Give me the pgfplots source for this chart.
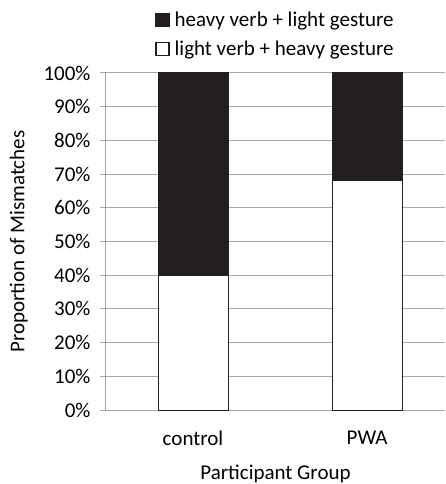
\documentclass[border=0pt]{standalone}
\usepackage{pgfplots}
\pgfplotsset{compat=1.18}
\usepackage{fontspec}
\setmainfont{Carlito}
\definecolor{barblack}{HTML}{231F20}
\definecolor{gridgray}{HTML}{A6A6A6}
\begin{document}
\begin{tikzpicture}
\begin{axis}[
  scale only axis,
  width=339pt, height=337pt,
  font=\fontsize{21}{25}\selectfont,
  /pgf/number format/assume math mode=true,
  ybar stacked,
  bar width=70pt,
  xmin=-0.5, xmax=1.448,
  ymin=0, ymax=100,
  ytick={0,10,...,100},
  yticklabel={\pgfmathprintnumber{\tick}\%},
  xtick={0,1},
  xticklabels={control,PWA},
  major x tick style={draw=none},
  extra x ticks={-0.5,0.5},
  extra x tick labels={},
  extra x tick style={major tick length=7pt, tick align=outside, tick style={gridgray, line width=1pt}},
  axis x line*=bottom,
  axis y line*=left,
  axis line style={gridgray, line width=1pt, -},
  ytick style={gridgray, line width=1pt},
  tick align=outside,
  major tick length=6pt,
  ymajorgrids,
  grid style={gridgray, line width=1pt},
  xticklabel style={yshift=-11pt},
  yticklabel style={xshift=-6pt},
  xlabel={Participant Group},
  ylabel={Proportion of Mismatches},
  xlabel style={inner sep=1pt, yshift=-2pt},
  ylabel style={yshift=9pt},
  legend style={at={(0.5,1.0)}, anchor=south, yshift=12pt, draw=none, fill=none,
    legend cell align=left, row sep=9pt, font=\fontsize{21}{25}\selectfont,
    /tikz/every odd column/.append style={column sep=3pt}},
  reverse legend,
  legend image code/.code={\draw[#1, line width=1.2pt] (0pt,-6.5pt) rectangle (13pt,6.5pt);},
]
\addplot[fill=white, draw=barblack, line width=1pt] coordinates {(0,40) (1,68)};
\addplot[fill=barblack, draw=barblack, line width=1pt] coordinates {(0,60) (1,32)};
\legend{light verb + heavy gesture, heavy verb + light gesture}
\end{axis}
\pgfresetboundingbox
\path ([xshift=-106pt,yshift=-74pt]current axis.south west) rectangle ([yshift=73pt]current axis.north east);
\end{tikzpicture}
\end{document}
